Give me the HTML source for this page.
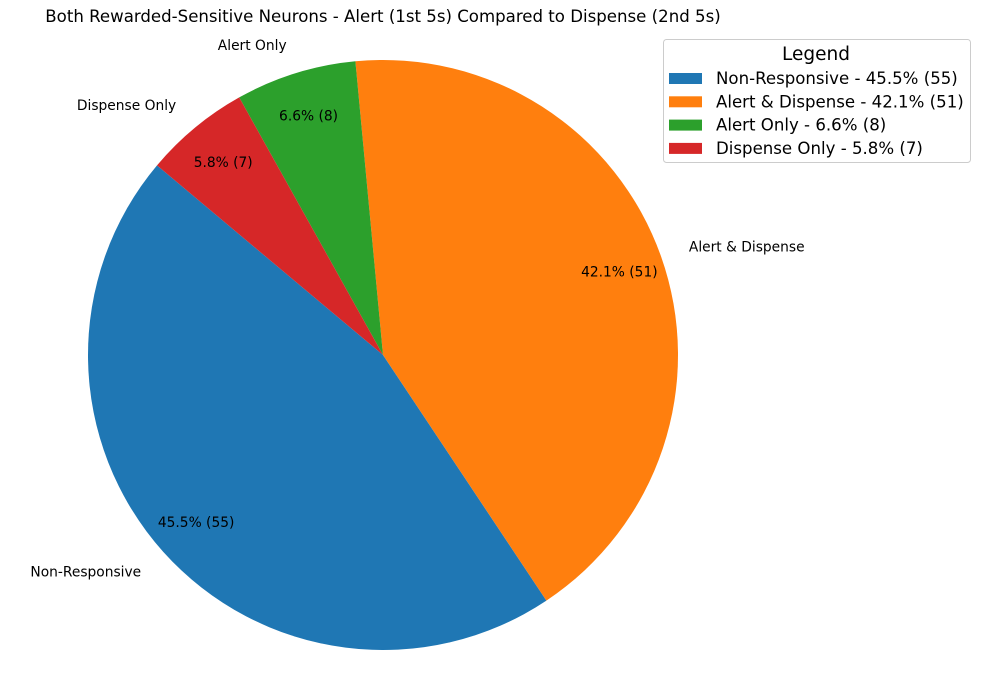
<!DOCTYPE html>
<html><head><meta charset="utf-8"><style>
body{margin:0;background:#fff}
svg{display:block;font-family:"DejaVu Sans","Liberation Sans",sans-serif}
</style></head><body>
<svg id="chart" width="981" height="690">
<text x="383" y="22" text-anchor="middle" font-size="16.6">Both Rewarded-Sensitive Neurons - Alert (1st 5s) Compared to Dispense (2nd 5s)</text>
<g id="slices"></g>
<g id="legend">
<rect x="663.5" y="39.5" width="307" height="123" rx="3" fill="#fff" stroke="#ccc"/>
<text x="816" y="60" text-anchor="middle" font-size="18.5">Legend</text>
</g>
</svg>
<script>
const categories = ["Non-Responsive","Alert & Dispense","Alert Only","Dispense Only"];
const counts = [55,51,8,7];
const colors = ["#1f77b4","#ff7f0e","#2ca02c","#d62728"];
const cx=383, cy=355, r=295, start=140;
const NS="http://www.w3.org/2000/svg";
const total=counts.reduce((a,b)=>a+b,0);
const g=document.getElementById('slices');
const lg=document.getElementById('legend');
function pt(a,rr){const t=a*Math.PI/180;return [cx+rr*Math.cos(t), cy-rr*Math.sin(t)];}
let ang=start;
counts.forEach((c,i)=>{
  const sweep=c/total*360, a0=ang, a1=ang+sweep; ang=a1;
  const p0=pt(a0,r), p1=pt(a1,r);
  const path=document.createElementNS(NS,'path');
  path.setAttribute('d',`M${cx},${cy} L${p0[0]},${p0[1]} A${r},${r} 0 ${sweep>180?1:0} 0 ${p1[0]},${p1[1]} Z`);
  path.setAttribute('fill',colors[i]);
  
  
  g.appendChild(path);
  const mid=(a0+a1)/2;
  const pct=(c/total*100).toFixed(1)+'% ('+c+')';
  const lp=pt(mid,1.1*r);
  const t=document.createElementNS(NS,'text');
  t.setAttribute('x',lp[0]);t.setAttribute('y',lp[1]+5);t.setAttribute('font-size','13.8');
  t.setAttribute('text-anchor',Math.cos(mid*Math.PI/180)<0?'end':'start');
  t.textContent=categories[i];
  
  
  g.appendChild(t);
  const pp=pt(mid,0.85*r);
  const t2=document.createElementNS(NS,'text');
  t2.setAttribute('x',pp[0]);t2.setAttribute('y',pp[1]+5);t2.setAttribute('font-size','13.8');
  t2.setAttribute('text-anchor','middle');
  t2.textContent=pct;
  
  
  g.appendChild(t2);
  const y=78+i*23.3;
  const rc=document.createElementNS(NS,'rect');
  rc.setAttribute('x',669);rc.setAttribute('y',y-5);rc.setAttribute('width',33);rc.setAttribute('height',11);rc.setAttribute('fill',colors[i]);
  
  
  lg.appendChild(rc);
  const lt=document.createElementNS(NS,'text');
  lt.setAttribute('x',716);lt.setAttribute('y',y+6);lt.setAttribute('font-size','16.6');
  lt.textContent=categories[i]+' - '+pct;
  
  
  lg.appendChild(lt);
});
</script>
</body></html>
